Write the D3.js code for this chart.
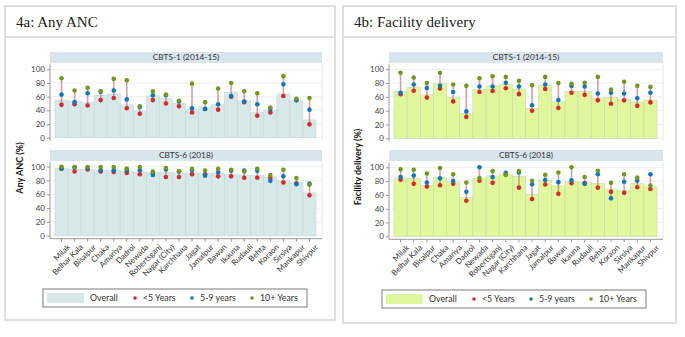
<!DOCTYPE html>
<html>
<head>
<meta charset="utf-8">
<script src="https://cdn.jsdelivr.net/npm/d3@7"></script>
<style>
  body { margin: 0; background: #fff; }
  text { font-family: Lato, "Open Sans", sans-serif; }
  .ttl { font-family: "Liberation Serif", "DejaVu Serif", serif; font-size: 15px; fill: #222; }
</style>
</head>
<body>
<div id="chart"></div>
<script>
// ------ Data ---------------//
var districts = ["Milak", "Belhar Kala", "Bisalpur", "Chaka", "Amariya", "Dadrol", "Newada",
  "Robertsganj", "Nagar (City)", "Karchhana", "Jagat", "Jamalpur", "Bawan", "Ikauna",
  "Rudauli", "Behta", "Koraon", "Sirsiya", "Mankapur", "Shivpur"];

// 4a Any ANC, CBTS-1 (2014-15)
var ancOverall1 = [55, 53, 52, 62, 64, 48, 38.5, 61, 57, 50, 41, 45, 48, 66, 54, 37, 40, 64, 54, 26];
var ancUnder5_1 = [48, 49, 47, 55, 58, 43, 35, 55, 50, 46, 37, 42, 41, 60, 52, 32, 37, 61, 55, 19.5];
var ancAge59_1  = [63, 52, 65, 67, 69, 56, 45, 62, 62, 53, 43, 42, 49, 61, 53, 49, 42, 78, 55, 41];
var ancAge10_1  = [87, 69, 73, 68, 86, 84, 46, 68, 63, 54, 79, 52, 72, 80, 68, 65, 44, 90, 57, 58];

// 4a Any ANC, CBTS-6 (2018)
var ancOverall6 = [97.5, 96.5, 95.5, 95, 95, 93, 92, 91.5, 91.5, 91, 91, 90.5, 90, 89, 88, 87.5, 85, 80, 77.5, 62];
var ancUnder5_6 = [97, 93, 96, 93, 92.5, 91, 89, 90, 85, 85, 89, 89, 86, 86, 84, 84, 84, 77, 76, 58.5];
var ancAge59_6  = [97.5, 99, 98, 95, 95, 95, 95, 88, 96, 93, 95, 87, 92, 94, 94.5, 94, 79.5, 86, 74.5, 75.5];
var ancAge10_6  = [100, 99.5, 99.5, 99.5, 99.5, 97.5, 99.5, 93, 98, 93.5, 97, 94.5, 97, 95.5, 93, 97, 88, 95.5, 83.5, 74];

// 4b Facility delivery, CBTS-1 (2014-15)
var fdOverall1 = [68, 74, 63, 80, 59.5, 36, 71, 76, 78, 71.5, 43.5, 77, 53, 68, 68, 58, 59.5, 56.5, 52.5, 55.5];
var fdUnder5_1 = [64, 69, 59, 72, 53.5, 31, 67, 68.5, 72.5, 64, 40, 71.5, 44, 66, 63, 55, 50, 55, 47, 52];
var fdAge59_1  = [66, 78, 73, 76, 67, 39, 75, 75, 80.5, 75, 48, 78, 55.5, 76, 75, 65, 66, 65, 58, 66];
var fdAge10_1  = [95, 88, 80, 95, 78, 76, 87, 90, 89, 83.5, 77, 89, 80, 79, 80.5, 89, 70.5, 82, 76, 74.5];

// 4b Facility delivery, CBTS-6 (2018)
var fdOverall6 = [84.5, 84, 74, 85.5, 79, 56, 84, 87.5, 90, 86.5, 60.5, 81, 73, 79.5, 78.5, 76.5, 68.5, 66, 76.5, 71.5];
var fdUnder5_6 = [82, 76, 72, 74, 76, 51.5, 80.5, 77.5, 90, 70.5, 54, 75, 61.5, 77, 77, 70.5, 64.5, 63, 71, 68.5];
var fdAge59_6  = [86, 88, 78, 84, 80, 64.5, 100, 86, 92, 92.5, 75.5, 81.5, 78.5, 81, 76, 90, 55, 79, 80.5, 90];
var fdAge10_6  = [97, 96.5, 91, 99, 90, 78, 84.5, 94.5, 89, 94.5, 80.5, 89, 92.5, 100, 86, 95, 77.5, 90, 85, 73.5];

var yTicks = [0, 20, 40, 60, 80, 100];
var legendLabels = ["Overall", "<5 Years", "5-9 years", "10+ Years"];
var pointColors = ["#d42a2e", "#1276bd", "#6f9a1f"];

// ------ SVG ---------------//
var width = 685, height = 337;
var svg = d3.select("#chart").append("svg")
  .attr("width", width)
  .attr("height", height);

function drawPanel(p) {
  var g = svg.append("g");

  // outer frame + title box
  g.append("rect").attr("x", p.left).attr("y", 6).attr("width", p.right - p.left).attr("height", p.bottom - 6)
    .attr("fill", "#fff").attr("stroke", "#d6d6d6").attr("stroke-width", 1.5);
  g.append("line").attr("x1", p.left).attr("x2", p.right).attr("y1", 37).attr("y2", 37)
    .attr("stroke", "#d6d6d6").attr("stroke-width", 1.5);
  g.append("text").attr("class", "ttl").attr("x", p.left + 11).attr("y", 27).text(p.title);

  var x = d3.scaleBand().domain(districts).range([p.barL, p.barR]).padding(0);

  p.facets.forEach(function(f, fi) {
    var y = d3.scaleLinear().domain([0, 100]).range([f.y0, f.y100]);
    var top = f.y100 - 5, bot = f.y0 + 3;

    // strip
    g.append("rect").attr("x", p.plotL).attr("y", f.strip).attr("width", p.plotR - p.plotL).attr("height", 11)
      .attr("fill", "#d8e5ec");
    g.append("text").attr("x", (p.plotL + p.plotR) / 2).attr("y", f.strip + 8.3)
      .attr("text-anchor", "middle").attr("font-size", 8.3).attr("fill", "#333").text(f.label);

    // gridlines
    g.append("g").selectAll("line").data(yTicks).join("line")
      .attr("x1", p.plotL).attr("x2", p.plotR)
      .attr("y1", d => y(d)).attr("y2", d => y(d))
      .attr("stroke", "#efefef").attr("stroke-width", 1);
    g.append("line").attr("x1", p.plotR).attr("x2", p.plotR).attr("y1", top).attr("y2", bot)
      .attr("stroke", "#e6e6e6");

    // overall bars
    g.append("g").selectAll("rect").data(districts).join("rect")
      .attr("x", d => x(d))
      .attr("y", (d, i) => y(f.overall[i]))
      .attr("width", x.bandwidth())
      .attr("height", (d, i) => y(0) - y(f.overall[i]))
      .attr("fill", p.barFill)
      .attr("stroke", p.barStroke).attr("stroke-width", 0.6);

    // range lines
    g.append("g").selectAll("line").data(districts).join("line")
      .attr("x1", d => x(d) + x.bandwidth() / 2).attr("x2", d => x(d) + x.bandwidth() / 2)
      .attr("y1", (d, i) => y(d3.min([f.u5[i], f.a59[i], f.a10[i]])))
      .attr("y2", (d, i) => y(d3.max([f.u5[i], f.a59[i], f.a10[i]])))
      .attr("stroke", "#b8636c").attr("stroke-opacity", 0.6).attr("stroke-width", 1.6);

    // points
    [f.u5, f.a59, f.a10].forEach(function(arr, k) {
      g.append("g").selectAll("circle").data(districts).join("circle")
        .attr("cx", d => x(d) + x.bandwidth() / 2)
        .attr("cy", (d, i) => y(arr[i]))
        .attr("r", 2.3)
        .attr("fill", pointColors[k]);
    });

    // y axis
    var ax = g.append("g").attr("transform", `translate(${p.plotL},0)`)
      .call(d3.axisLeft(y).tickValues(yTicks).tickSize(3).tickPadding(2));
    ax.select(".domain").attr("d", `M0,${top}V${bot}`).attr("stroke", "#999");
    ax.selectAll(".tick line").attr("stroke", "#999");
    ax.selectAll("text").attr("font-size", 8).attr("fill", "#444").attr("font-family", "Lato, sans-serif");

    // x axis on the last facet
    if (fi === p.facets.length - 1) {
      var xa = g.append("g").attr("transform", `translate(0,${bot})`)
        .call(d3.axisBottom(x).tickSize(3).tickSizeOuter(0));
      xa.select(".domain").attr("d", `M${p.plotL},0H${p.plotR}`).attr("stroke", "#999");
      xa.selectAll(".tick line").attr("stroke", "#999");
      xa.selectAll("text")
        .attr("font-size", 8).attr("fill", "#333").attr("font-family", "Lato, sans-serif")
        .attr("text-anchor", "end")
        .attr("transform", "translate(0,1) rotate(-45)")
        .attr("dx", "0.1em").attr("dy", "0.75em");
    }
  });

  // y title
  g.append("text")
    .attr("transform", `translate(${p.ytX},${p.ytY}) rotate(-90)`)
    .attr("text-anchor", "middle").attr("font-size", 9).attr("font-weight", "bold").attr("fill", "#111")
    .text(p.yTitle);

  // legend
  var lg = g.append("g").attr("transform", `translate(${p.legX},${p.legY})`);
  lg.append("rect").attr("x", 0).attr("y", 0).attr("width", 264).attr("height", 18)
    .attr("fill", "#fff").attr("stroke", "#7a7a7a").attr("stroke-width", 1);
  lg.append("rect").attr("x", 4).attr("y", 4).attr("width", 37).attr("height", 10).attr("fill", p.barFill);
  var lx = [47, 100, 157, 217];
  legendLabels.forEach(function(t, i) {
    if (i > 0) lg.append("circle").attr("cx", lx[i] - 8).attr("cy", 9).attr("r", 1.8).attr("fill", pointColors[i - 1]);
    lg.append("text").attr("x", lx[i]).attr("y", 12.3).attr("font-size", 8.8).attr("fill", "#333").text(t);
  });
}

drawPanel({
  title: "4a: Any ANC", yTitle: "Any ANC (%)",
  left: 5, right: 335, bottom: 320,
  plotL: 50, plotR: 322, barL: 55, barR: 316,
  barFill: "#d6e8e8", barStroke: "#c4d8d9",
  ytX: 23, ytY: 168, legX: 43, legY: 289,
  facets: [
    { label: "CBTS-1 (2014-15)", strip: 52, y0: 137.7, y100: 69.3,
      overall: ancOverall1, u5: ancUnder5_1, a59: ancAge59_1, a10: ancAge10_1 },
    { label: "CBTS-6 (2018)", strip: 150, y0: 235.7, y100: 166.7,
      overall: ancOverall6, u5: ancUnder5_6, a59: ancAge59_6, a10: ancAge10_6 }
  ]
});

drawPanel({
  title: "4b: Facility delivery", yTitle: "Facility delivery (%)",
  left: 343, right: 676, bottom: 323,
  plotL: 389, plotR: 663, barL: 394, barR: 657,
  barFill: "#e0f89c", barStroke: "#c9d6b0",
  ytX: 361, ytY: 167, legX: 382, legY: 290,
  facets: [
    { label: "CBTS-1 (2014-15)", strip: 52, y0: 138.3, y100: 69.3,
      overall: fdOverall1, u5: fdUnder5_1, a59: fdAge59_1, a10: fdAge10_1 },
    { label: "CBTS-6 (2018)", strip: 150, y0: 236.3, y100: 167.3,
      overall: fdOverall6, u5: fdUnder5_6, a59: fdAge59_6, a10: fdAge10_6 }
  ]
});
</script>
</body>
</html>
